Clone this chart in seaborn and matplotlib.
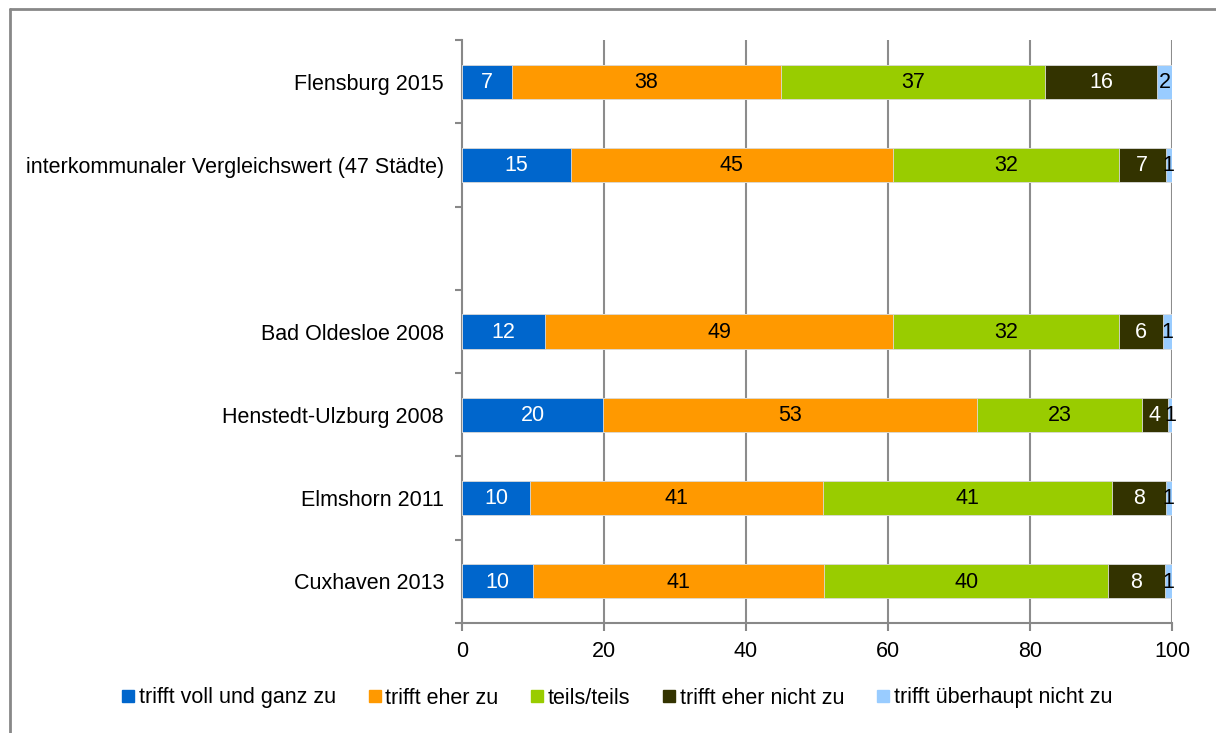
import matplotlib
matplotlib.use("Agg")
import matplotlib.pyplot as plt
from matplotlib.lines import Line2D
from matplotlib.ticker import FixedLocator
import seaborn as sns
import pandas as pd
import numpy as np

# ---- data ----
categories = ["Flensburg 2015", "interkommunaler Vergleichswert (47 Städte)", " ",
              "Bad Oldesloe 2008", "Henstedt-Ulzburg 2008", "Elmshorn 2011", "Cuxhaven 2013"]
series = ["trifft voll und ganz zu", "trifft eher zu", "teils/teils",
          "trifft eher nicht zu", "trifft überhaupt nicht zu"]
voll = [7.0, 15.3, np.nan, 11.7, 19.9, 9.6, 10.0]
eher = [37.9, 45.4, np.nan, 49.0, 52.6, 41.3, 41.0]
teils = [37.2, 31.8, np.nan, 31.8, 23.3, 40.6, 40.0]
eher_nicht = [15.8, 6.6, np.nan, 6.2, 3.6, 7.6, 8.0]
ueberhaupt_nicht = [2.1, 0.9, np.nan, 1.3, 0.6, 0.9, 1.0]
colors = ["#0066CC", "#FF9900", "#99CC00", "#333300", "#99CCFF"]
label_colors = ["white", "black", "black", "white", "black"]
xticks = [0, 20, 40, 60, 80, 100]

sns.set_theme(style="white")
plt.rcParams["font.family"] = ["Liberation Sans", "DejaVu Sans"]
plt.rcParams["text.color"] = "black"
FS = 15.5

vals = np.array([voll, eher, teils, eher_nicht, ueberhaupt_nicht])
cum = np.nancumsum(vals, axis=0)
cum[:, 2] = np.nan

fig = plt.figure(figsize=(12.16, 7.33), dpi=100)
ax = fig.add_axes([462/1216, 1-623/733, (1172-462)/1216, (623-40)/733])

rows = []
for i, s in enumerate(series):
    for j, c in enumerate(categories):
        rows.append({"cat": c, "series": s, "end": cum[i, j]})
df = pd.DataFrame(rows)

for i in reversed(range(len(series))):
    sub = df[df["series"] == series[i]]
    sns.barplot(data=sub, x="end", y="cat", order=categories, orient="h",
                color=colors[i], width=0.41, ax=ax, errorbar=None,
                edgecolor="#DDDDDD", linewidth=0.6, saturation=1, zorder=3)

# segment labels
for i in range(len(series)):
    for j in range(len(categories)):
        v = vals[i, j]
        if np.isnan(v):
            continue
        start = cum[i, j] - v
        xc = start + v / 2
        ax.text(xc, j - 0.02, f"{v:.0f}", ha="center", va="center_baseline",
                color=label_colors[i], fontsize=FS, zorder=5)

ax.set_xlim(0, 100)
ax.set_ylim(len(categories) - 0.5, -0.5)
ax.set_xlabel("")
ax.set_ylabel("")
ax.xaxis.set_major_locator(FixedLocator(xticks))
ax.set_xticklabels([str(t) for t in xticks], fontsize=FS)
ax.set_yticks(range(len(categories)))
ax.set_yticklabels(categories, fontsize=FS)
ax.yaxis.set_minor_locator(FixedLocator(np.arange(-0.5, len(categories), 1.0)))
ax.tick_params(axis="y", which="major", length=0, pad=13, labelcolor="black")
ax.tick_params(axis="y", which="minor", length=5, width=1.5, color="#888888", left=True)
ax.tick_params(axis="x", which="major", length=6, width=1.5, color="#888888", bottom=True,
               pad=7, labelcolor="black")

for t in xticks[1:]:
    ax.axvline(t, color="#8C8C8C", lw=1.5, zorder=1)

for side in ["top", "right"]:
    ax.spines[side].set_visible(False)
for side in ["left", "bottom"]:
    ax.spines[side].set_color("#888888")
    ax.spines[side].set_linewidth(1.5)
ax.grid(False)

handles = [Line2D([0], [0], marker="s", linestyle="", markersize=9,
                  markerfacecolor=c, markeredgecolor=c) for c in colors]
fig.legend(handles, series, loc="center", bbox_to_anchor=(617/1216, 1-698/733),
           ncol=5, frameon=False, fontsize=FS, handletextpad=0.2,
           columnspacing=1.5, handlelength=0.6, labelcolor="black")

# outer frame (left and top edges visible)
fig.add_artist(Line2D([10/1216, 10/1216], [0, 1-9/733], transform=fig.transFigure,
                      color="#888888", lw=2))
fig.add_artist(Line2D([10/1216, 1], [1-9/733, 1-9/733], transform=fig.transFigure,
                      color="#888888", lw=2))

fig.savefig("out.png", dpi=100, facecolor="white")
